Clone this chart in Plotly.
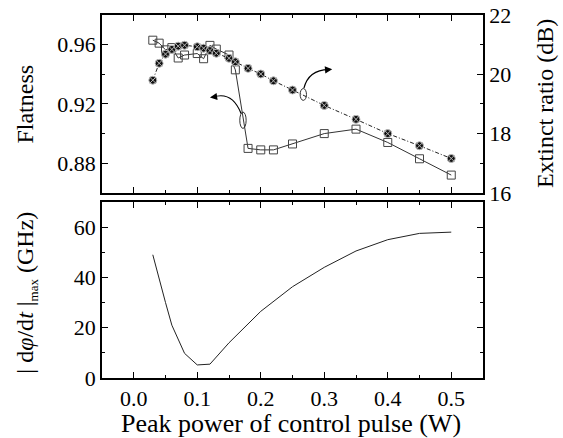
import plotly.graph_objects as go

# ---- data ----
power_flat = [0.03, 0.04, 0.05, 0.06, 0.07, 0.08, 0.10, 0.11, 0.12, 0.13, 0.15, 0.16,
              0.18, 0.20, 0.22, 0.25, 0.30, 0.35, 0.40, 0.45, 0.50]
flatness = [0.963, 0.961, 0.9565, 0.958, 0.951, 0.953, 0.954, 0.9505, 0.9595, 0.957, 0.953, 0.943,
            0.890, 0.889, 0.889, 0.893, 0.900, 0.903, 0.894, 0.883, 0.872]

power_er = [0.03, 0.04, 0.05, 0.06, 0.07, 0.08, 0.10, 0.11, 0.12, 0.13, 0.15, 0.16,
            0.18, 0.20, 0.22, 0.25, 0.30, 0.35, 0.40, 0.45, 0.50]
extinct_ratio = [19.80, 20.37, 20.68, 20.84, 20.95, 20.98, 20.93, 20.88, 20.80, 20.71, 20.54, 20.42,
                 20.20, 20.01, 19.78, 19.47, 18.95, 18.48, 18.00, 17.59, 17.16]

power_chirp = [0.03, 0.04, 0.05, 0.06, 0.08, 0.10, 0.12, 0.15, 0.20, 0.25, 0.30, 0.35, 0.40, 0.45, 0.50]
chirp_max = [49, 39, 30, 21, 9.8, 5.2, 5.5, 14, 26.5, 36.3, 44, 50.5, 55, 57.5, 58]

x_ticks = [0.0, 0.1, 0.2, 0.3, 0.4, 0.5]
x_ticklabels = ["0.0", "0.1", "0.2", "0.3", "0.4", "0.5"]
flat_ticks = [0.88, 0.92, 0.96]
er_ticks = [16, 18, 20, 22]
chirp_ticks = [0, 20, 40, 60]

FONT = "Liberation Serif"

fig = go.Figure()

fig.add_trace(go.Scatter(
    x=power_flat, y=flatness, mode="lines+markers", xaxis="x", yaxis="y",
    line=dict(color="#333333", width=1),
    marker=dict(symbol="square-open", size=8, color="#444444", line=dict(width=1)),
    showlegend=False))

fig.add_trace(go.Scatter(
    x=power_er, y=extinct_ratio, mode="lines+markers", xaxis="x", yaxis="y2",
    line=dict(color="#222222", width=1, dash="4px,2px,1px,2px"),
    marker=dict(symbol="circle-x", size=8, color="#111111", line=dict(color="#bbbbbb", width=1)),
    showlegend=False))

fig.add_trace(go.Scatter(
    x=power_chirp, y=chirp_max, mode="lines", xaxis="x2", yaxis="y3",
    line=dict(color="#222222", width=1),
    showlegend=False))

axis_common = dict(showline=True, linecolor="black", linewidth=1.5, ticks="inside",
                   tickcolor="black", ticklen=6, tickwidth=1.2, showgrid=False, zeroline=False,
                   automargin=False,
                   tickfont=dict(family=FONT, size=22, color="black"))

fig.update_layout(
    width=563, height=438,
    margin=dict(l=102, r=80, t=15, b=60, autoexpand=False),
    paper_bgcolor="white", plot_bgcolor="white",
    font=dict(family=FONT, size=22, color="black"),
    xaxis=dict(domain=[0, 1], range=[-0.05, 0.55], anchor="y", mirror="ticks",
               tickvals=x_ticks, showticklabels=False,
               minor=dict(dtick=0.05, ticks="inside", ticklen=3, tickcolor="black"),
               **axis_common),
    yaxis=dict(domain=[0.51, 1], range=[0.86, 0.98], anchor="x",
               tickvals=flat_ticks, ticktext=["0.88", "0.92", "0.96"],
               minor=dict(dtick=0.02, ticks="inside", ticklen=3, tickcolor="black"),
               **axis_common),
    yaxis2=dict(domain=[0.51, 1], range=[16, 22], anchor="x", overlaying="y", side="right",
                tickvals=er_ticks,
                minor=dict(dtick=1, ticks="inside", ticklen=3, tickcolor="black"),
                **axis_common),
    xaxis2=dict(domain=[0, 1], range=[-0.05, 0.55], anchor="y3", mirror="ticks",
                tickvals=x_ticks, ticktext=x_ticklabels,
                minor=dict(dtick=0.05, ticks="inside", ticklen=3, tickcolor="black"),
                **axis_common),
    yaxis3=dict(domain=[0, 0.485], range=[0, 70], anchor="x2", mirror="ticks",
                tickvals=chirp_ticks,
                minor=dict(dtick=10, ticks="inside", ticklen=3, tickcolor="black"),
                **axis_common),
)

# axis titles as annotations
title_font = dict(family=FONT, size=24, color="black")
fig.add_annotation(text="Flatness", xref="paper", yref="paper", x=-0.203, y=0.755,
                   textangle=-90, showarrow=False, font=title_font, xanchor="center", yanchor="middle")
fig.add_annotation(text="Extinct ratio (dB)", xref="paper", yref="paper", x=1.163, y=0.755,
                   textangle=-90, showarrow=False, font=title_font, xanchor="center", yanchor="middle")
fig.add_annotation(text="| d<i>φ</i>/d<i>t</i> |<sub><span style='font-size:13px'>max</span></sub> (GHz)",
                   xref="paper", yref="paper",
                   x=-0.197, y=0.235, textangle=-90, showarrow=False, font=title_font,
                   xanchor="center", yanchor="middle")
fig.add_annotation(text="Peak power of control pulse (W)", xref="paper", yref="paper",
                   x=0.497, y=-0.124, showarrow=False,
                   font=dict(family=FONT, size=26, color="black"),
                   xanchor="center", yanchor="middle")

# ellipses marking the curves
fig.add_shape(type="circle", xref="x", yref="y", x0=0.167, x1=0.177, y0=0.9035, y1=0.9145,
              line=dict(color="#333333", width=1))
fig.add_shape(type="circle", xref="x", yref="y2", x0=0.262, x1=0.272, y0=19.12, y1=19.52,
              line=dict(color="#333333", width=1))

# curved arrows
fig.add_shape(type="path", xref="x", yref="y",
              path="M 0.169,0.9135 Q 0.155,0.929 0.124,0.9245",
              line=dict(color="black", width=1.2))
fig.add_annotation(x=0.12, y=0.9243, ax=0.128, ay=0.9248, xref="x", yref="y", axref="x", ayref="y",
                   text="", showarrow=True, arrowhead=2, arrowsize=1.2, arrowwidth=1.2, arrowcolor="black")
fig.add_shape(type="path", xref="x", yref="y2",
              path="M 0.268,19.53 Q 0.275,20.15 0.307,20.16",
              line=dict(color="black", width=1.2))
fig.add_annotation(x=0.3125, y=20.17, ax=0.305, ay=20.155, xref="x", yref="y2", axref="x", ayref="y2",
                   text="", showarrow=True, arrowhead=2, arrowsize=1.2, arrowwidth=1.2, arrowcolor="black")

fig.write_html("out.html", config={"displayModeBar": False},
               post_script="document.body.style.margin='0px';")
